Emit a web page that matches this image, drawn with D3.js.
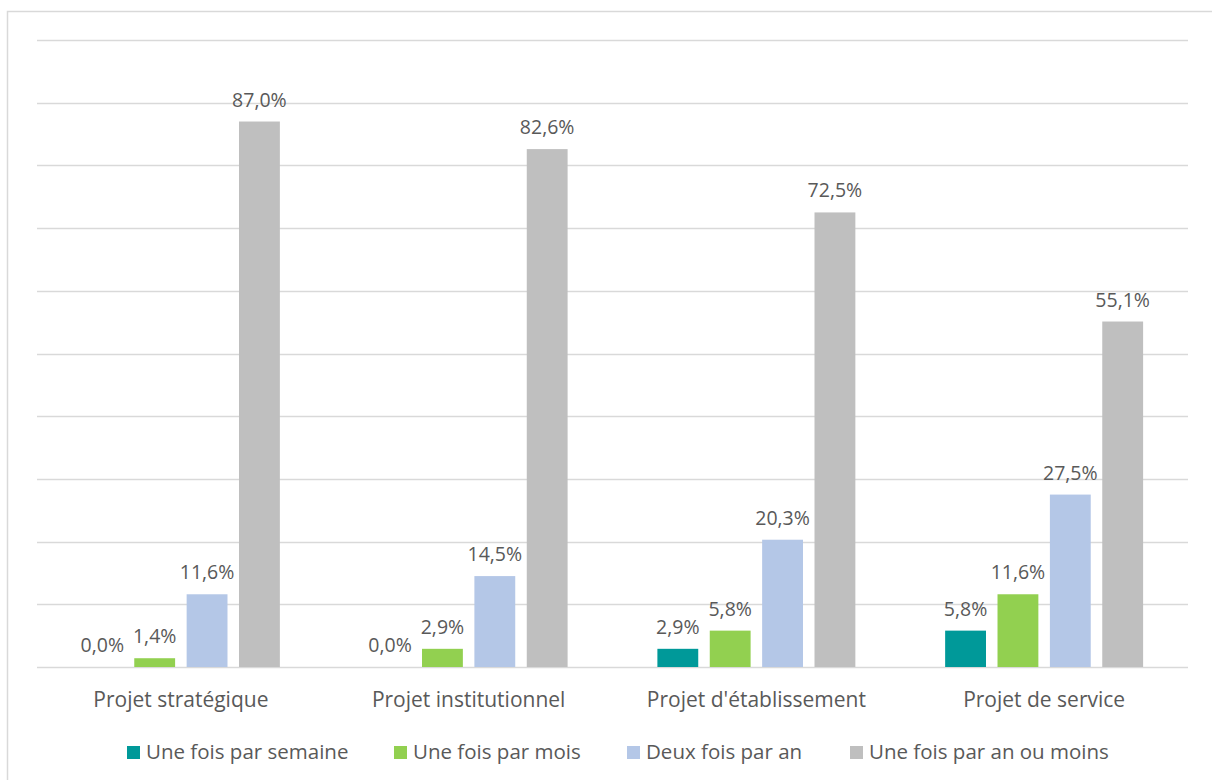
<html>
<head>
    <meta charset="utf-8">
    <script src="https://d3js.org/d3.v7.min.js"></script>
</head>
<style>
body { margin: 0; background: #fff; }
text { font-family: "Open Sans", sans-serif; fill: #595959; }
</style>
<body>
<script>
// categories and series
var categories = ["Projet stratégique", "Projet institutionnel", "Projet d'établissement", "Projet de service"];
var series = ["Une fois par semaine", "Une fois par mois", "Deux fois par an", "Une fois par an ou moins"];
var colors = ["#009999", "#92D050", "#B4C7E7", "#BFBFBF"];

// values in %, one array per series
var parSemaine = [0.0, 0.0, 2.9, 5.8];
var parMois = [1.4, 2.9, 5.8, 11.6];
var deuxParAn = [11.6, 14.5, 20.3, 27.5];
var unParAnOuMoins = [87.0, 82.6, 72.5, 55.1];
var values = [parSemaine, parMois, deuxParAn, unParAnOuMoins];

var gridTicks = d3.range(0, 101, 10);

var w = 1212, h = 780;
var margin = {top: 40, left: 37, right: 24, bottom: 113};

var svg = d3.select("body").append("svg").attr("width", w).attr("height", h);

// chart border (runs off the picture on the right and bottom)
svg.append("rect")
    .attr("x", 7.5).attr("y", 11.5)
    .attr("width", w + 20).attr("height", h + 20)
    .attr("fill", "none").attr("stroke", "#D9D9D9").attr("stroke-width", 1.5);

var x0 = d3.scaleBand().domain(categories).range([margin.left, w - margin.right]);
var x1 = d3.scaleBand().domain(series)
    .range([x0.bandwidth() * 0.156, x0.bandwidth() * 0.844])
    .paddingInner(0.22);
var y = d3.scaleLinear().domain([0, 100]).range([h - margin.bottom, margin.top]);

// gridlines
svg.append("g").selectAll("line").data(gridTicks).enter().append("line")
    .attr("x1", margin.left).attr("x2", w - margin.right)
    .attr("y1", function(d){ return Math.round(y(d)) + 0.5; })
    .attr("y2", function(d){ return Math.round(y(d)) + 0.5; })
    .attr("stroke", "#D9D9D9").attr("stroke-width", 1.5);

// bars
var groups = svg.append("g").selectAll("g").data(categories).enter().append("g")
    .attr("transform", function(d){ return "translate(" + x0(d) + ",0)"; });

groups.each(function(cat, ci) {
    var g = d3.select(this);
    series.forEach(function(s, si) {
        var v = values[si][ci];
        g.append("rect")
            .attr("x", x1(s))
            .attr("y", y(v))
            .attr("width", x1.bandwidth())
            .attr("height", y(0) - y(v))
            .attr("fill", colors[si]);
        g.append("text")
            .attr("x", x1(s) + x1.bandwidth() / 2)
            .attr("y", y(v) - 15)
            .attr("text-anchor", "middle")
            .style("font-size", "19.5px")
            .text(v.toFixed(1).replace(".", ",") + "%");
    });
});

// x axis (category labels)
var xAxis = d3.axisBottom(x0).tickSize(0).tickPadding(0);
var xg = svg.append("g").attr("transform", "translate(0," + (h - margin.bottom) + ")").call(xAxis);
xg.select(".domain").remove();
xg.selectAll("text")
    .attr("y", 40)
    .attr("dy", 0)
    .style("font-size", "21px")
    .style("font-family", "Open Sans, sans-serif")
    .attr("fill", "#595959");

// legend
var legendX = [127, 394, 627, 850];
var legend = svg.append("g").selectAll("g").data(series).enter().append("g")
    .attr("transform", function(d, i){ return "translate(" + legendX[i] + ",746)"; });
legend.append("rect").attr("width", 13).attr("height", 13)
    .attr("fill", function(d, i){ return colors[i]; });
legend.append("text").attr("x", 19).attr("y", 13)
    .style("font-size", "20.5px")
    .text(function(d){ return d; });
</script>
</body>
</html>
